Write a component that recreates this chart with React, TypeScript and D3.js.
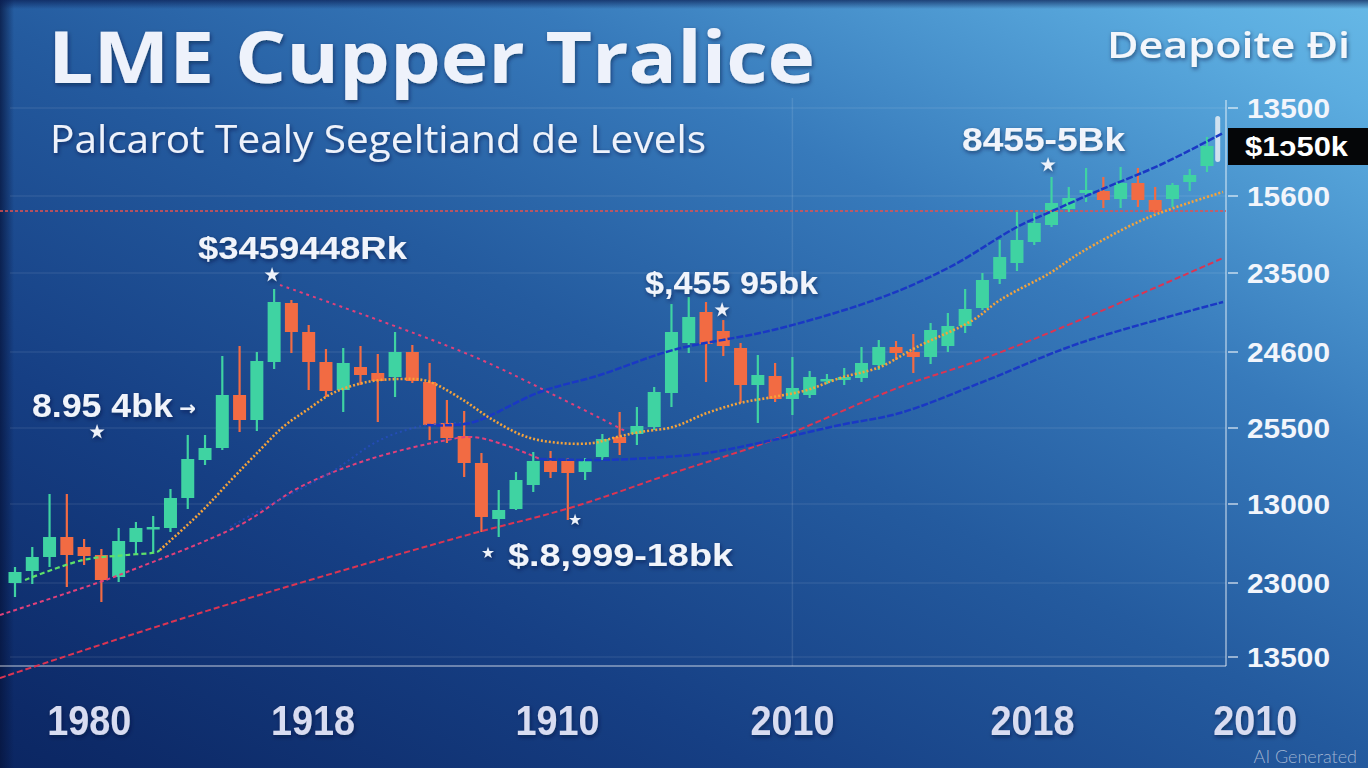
import React from "react";
import * as d3 from "d3";

const WIDTH = 1368;
const HEIGHT = 768;

// candle values, one per period (price units of the chart)
const candleOpen = [750, 870, 1010, 1210, 1110, 1030, 810, 1160, 1290, 1300, 1600, 1980, 2100, 2630, 2380, 2960, 3550, 3260, 2960, 2680, 2910, 2850, 2810, 3060, 2760, 2350, 2220, 1950, 1390, 1490, 1730, 1970, 1970, 1860, 2010, 2210, 2240, 2310, 2650, 3150, 3460, 3270, 3100, 2730, 2820, 2590, 2630, 2770, 2780, 2800, 2930, 3110, 3060, 3010, 3120, 3320, 3500, 3790, 3950, 4160, 4330, 4490, 4650, 4670, 4590, 4750, 4580, 4590, 4760, 4920];
const candleClose = [860, 1010, 1210, 1030, 1020, 780, 1170, 1300, 1310, 1600, 1990, 2100, 2630, 2380, 2970, 3560, 3260, 2960, 2670, 2950, 2830, 2770, 3060, 2770, 2330, 2200, 1950, 1410, 1480, 1780, 1970, 1860, 1850, 1970, 2190, 2150, 2320, 2660, 3260, 3410, 3140, 3120, 2730, 2830, 2590, 2700, 2810, 2790, 2810, 2950, 3110, 3050, 3010, 3280, 3320, 3490, 3780, 4010, 4180, 4350, 4550, 4600, 4680, 4580, 4750, 4580, 4460, 4730, 4830, 5120];
const candleHigh = [910, 1110, 1640, 1640, 1190, 1090, 1300, 1360, 1420, 1690, 2230, 2230, 3020, 3120, 3060, 3690, 3580, 3330, 3090, 3100, 3120, 3040, 3260, 3130, 2950, 2580, 2470, 2050, 1680, 1860, 2060, 2070, 2000, 2000, 2240, 2460, 2510, 2710, 3540, 3610, 3560, 3380, 3150, 3030, 2950, 3010, 2870, 2840, 2900, 3110, 3180, 3170, 3240, 3350, 3450, 3690, 3850, 4180, 4480, 4450, 4810, 4710, 4900, 4810, 4910, 4900, 4710, 4750, 4890, 5210];
const candleLow = [610, 740, 910, 710, 930, 560, 760, 1040, 1060, 1260, 1490, 1930, 2080, 2260, 2270, 2890, 3050, 2680, 2610, 2460, 2730, 2360, 2610, 2750, 2180, 2150, 1810, 1260, 1210, 1480, 1660, 1800, 1380, 1780, 1980, 2030, 2130, 2280, 2510, 3050, 2760, 3020, 2550, 2350, 2560, 2430, 2600, 2740, 2730, 2760, 2880, 2980, 2850, 2940, 3060, 3250, 3480, 3740, 3870, 4130, 4310, 4460, 4560, 4500, 4500, 4510, 4450, 4510, 4670, 4860];

const yTickValues = [5500, 4620, 3850, 3060, 2300, 1540, 750, 10];
const yTickLabels = ["13500", "15600", "23500", "24600", "25500", "13000", "23000", "13500"];
const xTickPos = [4.3, 17.25, 31.4, 45, 58.9, 71.8];
const xTickLabels = ["1980", "1918", "1910", "2010", "2018", "2010"];

type Pt = [number, number];
// [period index, value]
const greenMA: Pt[] = [[0.58, 780], [3.94, 980], [6.48, 1030], [8.22, 1060], [8.39, 1080]];
const orangeMA: Pt[] = [[8.39, 1080], [10.71, 1450], [12.62, 1800], [14.18, 2080], [15.51, 2310], [16.9, 2480], [18.41, 2650], [20.38, 2760], [22.29, 2790], [23.85, 2770], [25.76, 2600], [27.67, 2380], [29.64, 2210], [31.55, 2150], [33.46, 2150], [34.85, 2210], [36.18, 2260], [38.09, 2310], [40.06, 2450], [41.97, 2550], [43.88, 2610], [45.85, 2680], [47.76, 2800], [50.07, 2910], [52.21, 3110], [55.46, 3380], [57.02, 3580], [59.91, 3850], [61.65, 4050], [65.53, 4400], [69.93, 4660]];
const pinkLine: Pt[] = [[-0.87, 430], [4.92, 760], [6.48, 860], [13.02, 1330], [16.5, 1710], [20.38, 1980], [25.01, 2180], [26.51, 2210], [28.36, 2130], [30.39, 1990]];
const blueLower: Pt[] = [[30.39, 1990], [33.46, 1980], [36.76, 2000], [40.06, 2050], [43.88, 2180], [47.76, 2330], [51.23, 2450], [55.86, 2750], [61.65, 3150], [69.93, 3560]];
const blueUpperFaint: Pt[] = [[12.45, 1310], [14.18, 1480], [18.23, 1850], [21.13, 2180], [23.85, 2330], [26.34, 2350]];
const blueUpper: Pt[] = [[23.85, 2330], [26.34, 2350], [30.39, 2660], [33.86, 2830], [38.09, 3080], [43.88, 3280], [50.07, 3600], [54.12, 3910], [58.0, 4310], [59.91, 4460], [62.81, 4680], [66.28, 4930], [69.93, 5250]];
const redTrend: Pt[] = [[-0.87, -200], [10.71, 450], [25.76, 1210], [32.3, 1510], [38.09, 1850], [43.88, 2180], [51.23, 2710], [55.86, 2980], [61.65, 3380], [69.93, 4000]];
const redDown: Pt[] = [[15.34, 3730], [26.34, 3030], [31.55, 2600], [35.43, 2260]];
const resistanceLevel = 4470;
const lastPrice = 5120;
const lastTick: Pt = [69.62, 5420];

const calloutTexts = ["$3459448Rk", "8.95 4bk", "$,455 95bk", "$.8,999-18bk", "8455-5Bk"];
const calloutAt: Pt[] = [[10.59, 3990], [0.98, 2410], [36.47, 3640], [28.54, 920], [54.82, 5070]];
const markerAt: Pt[] = [[14.88, 3830], [4.75, 2260], [40.93, 3480], [59.8, 4930], [27.38, 1050], [32.42, 1380]];

const GREEN = "#3fd3a2";
const RED = "#f26b43";

export default function App() {
  const x = d3.scaleLinear().domain([0, 69]).range([15, 1207]);
  const y = d3.scaleLinear().domain([-200, 5600]).range([678, 98]);
  const axisX = 1226;
  const bottomY = y(-80);
  const line = d3
    .line<Pt>()
    .x((d) => x(d[0]))
    .y((d) => y(d[1]))
    .curve(d3.curveCatmullRom.alpha(0.5));
  const star = d3.symbol().type(d3.symbolStar);
  const calloutLens = [209, 141, 173, 225, 163];
  const calloutSizes = [32, 34, 32, 32, 34];

  return (
    <svg
      width={WIDTH}
      height={HEIGHT}
      style={{ position: "absolute", left: 0, top: 0, display: "block" }}
    >
      <defs>
        <linearGradient id="bg" gradientUnits="userSpaceOnUse" x1={1368} y1={0} x2={751} y2={1166}>
          <stop offset="0" stopColor="#66b8e6" />
          <stop offset="0.07" stopColor="#5cade0" />
          <stop offset="0.3" stopColor="#377abb" />
          <stop offset="0.5" stopColor="#245b9f" />
          <stop offset="0.73" stopColor="#163f84" />
          <stop offset="0.95" stopColor="#0d2a68" />
          <stop offset="1" stopColor="#0b2662" />
        </linearGradient>
        <linearGradient id="leftEdge" x1="0" y1="0" x2="1" y2="0">
          <stop offset="0" stopColor="#06143c" stopOpacity="0.75" />
          <stop offset="1" stopColor="#06143c" stopOpacity="0" />
        </linearGradient>
        <linearGradient id="topEdge" x1="0" y1="0" x2="0" y2="1">
          <stop offset="0" stopColor="#0a1d52" stopOpacity="0.7" />
          <stop offset="1" stopColor="#0a1d52" stopOpacity="0" />
        </linearGradient>
        <filter id="shadow" x="-10%" y="-30%" width="120%" height="160%">
          <feDropShadow dx="1" dy="2" stdDeviation="2" floodColor="#061536" floodOpacity="0.55" />
        </filter>
      </defs>

      <rect width={WIDTH} height={HEIGHT} fill="url(#bg)" />
      <rect width={14} height={HEIGHT} fill="url(#leftEdge)" />
      <rect width={WIDTH} height={9} fill="url(#topEdge)" />

      {/* grid */}
      {yTickValues.map((v, i) => (
        <line key={"g" + i} x1={10} x2={axisX} y1={y(v)} y2={y(v)} stroke="#ffffff" strokeOpacity={0.12} strokeWidth={1.2} />
      ))}
      <line x1={x(xTickPos[3])} x2={x(xTickPos[3])} y1={y(5600)} y2={bottomY} stroke="#ffffff" strokeOpacity={0.1} strokeWidth={1.5} />

      {/* axis frame */}
      <line x1={axisX} x2={axisX} y1={y(5580)} y2={bottomY} stroke="#ffffff" strokeOpacity={0.55} strokeWidth={1.5} />
      <line x1={0} x2={axisX} y1={bottomY} y2={bottomY} stroke="#ffffff" strokeOpacity={0.5} strokeWidth={1.5} />
      {yTickValues.map((v, i) => (
        <g key={"t" + i}>
          <line x1={axisX + 2} x2={axisX + 12} y1={y(v)} y2={y(v)} stroke="#ffffff" strokeOpacity={0.7} strokeWidth={1.5} />
          <text
            x={1247}
            y={y(v)}
            dy="0.36em"
            fill="#f2f5fb"
            fontFamily="'Liberation Sans', Arial, sans-serif"
            fontWeight={700}
            fontSize={28}
            textLength={83}
            lengthAdjust="spacingAndGlyphs"
          >
            {yTickLabels[i]}
          </text>
        </g>
      ))}

      {/* candles */}
      {candleOpen.map((o, i) => {
        const c = candleClose[i];
        const col = c >= o ? GREEN : RED;
        const top = y(Math.max(o, c));
        const h = Math.max(2.5, y(Math.min(o, c)) - top);
        return (
          <g key={"c" + i}>
            <line x1={x(i)} x2={x(i)} y1={y(candleHigh[i])} y2={y(candleLow[i])} stroke={col} strokeWidth={2.2} />
            <rect x={x(i) - 6.5} y={top} width={13} height={h} fill={col} />
          </g>
        );
      })}
      <rect
        x={x(lastTick[0]) - 2.5}
        y={y(lastTick[1])}
        width={5}
        height={y(lastPrice - 160) - y(lastTick[1])}
        rx={2.5}
        fill="#e6edf5"
        opacity={0.85}
      />

      {/* indicator lines */}
      <line x1={0} x2={axisX} y1={y(resistanceLevel)} y2={y(resistanceLevel)} stroke="#e5524f" strokeWidth={1.6} strokeDasharray="3 2" />
      <path d={line(redTrend) || ""} fill="none" stroke="#dc3452" strokeWidth={2} strokeDasharray="6 3" />
      <path d={line(pinkLine) || ""} fill="none" stroke="#e2407a" strokeWidth={2} strokeDasharray="4 3" />
      <path d={line(blueLower) || ""} fill="none" stroke="#1a38c4" strokeWidth={2.5} strokeDasharray="7 2" />
      <path d={line(blueUpperFaint) || ""} fill="none" stroke="#2a4fd0" strokeOpacity={0.6} strokeWidth={2} strokeDasharray="2 3" />
      <path d={line(blueUpper) || ""} fill="none" stroke="#1a38c4" strokeWidth={2.5} strokeDasharray="7 2" />
      <path d={line(redDown) || ""} fill="none" stroke="#e2407a" strokeWidth={2} strokeDasharray="3 4" />
      <path d={line(greenMA) || ""} fill="none" stroke="#5ee06a" strokeWidth={2.2} strokeDasharray="5 3" />
      <path d={line(orangeMA) || ""} fill="none" stroke="#f5a33a" strokeWidth={2.6} strokeDasharray="2 2" />

      {/* last price box */}
      <rect x={1228} y={y(lastPrice) - 18} width={WIDTH - 1228} height={37} fill="#050608" />
      <text
        x={1245}
        y={y(lastPrice)}
        dy="0.36em"
        fill="#ffffff"
        fontFamily="'Liberation Sans', Arial, sans-serif"
        fontWeight={700}
        fontSize={28}
        textLength={103}
        lengthAdjust="spacingAndGlyphs"
      >
        $1ɔ50k
      </text>

      {/* markers and callouts */}
      {markerAt.map((m, i) => (
        <path
          key={"m" + i}
          transform={`translate(${x(m[0])},${y(m[1])})`}
          d={star.size(i === 4 || i === 5 ? 45 : 70)() || ""}
          fill="#eef2fa"
          filter="url(#shadow)"
        />
      ))}
      <text
        x={x(10.0)}
        y={y(2410)}
        dy="-0.1em"
        fill="#eef2fa"
        fontFamily="'DejaVu Sans', sans-serif"
        fontWeight={700}
        fontSize={20}
        textAnchor="middle"
        filter="url(#shadow)"
      >
        →
      </text>
      {calloutTexts.map((t, i) => (
        <text
          key={"a" + i}
          x={x(calloutAt[i][0])}
          y={y(calloutAt[i][1])}
          fill="#f1f4fb"
          fontFamily="'Liberation Sans', Arial, sans-serif"
          fontWeight={700}
          fontSize={calloutSizes[i]}
          textLength={calloutLens[i]}
          lengthAdjust="spacingAndGlyphs"
          filter="url(#shadow)"
        >
          {t}
        </text>
      ))}

      {/* x labels */}
      {xTickLabels.map((t, i) => (
        <text
          key={"x" + i}
          x={x(xTickPos[i])}
          y={735}
          fill="#d8dcf1"
          fontFamily="'Liberation Sans', Arial, sans-serif"
          fontWeight={700}
          fontSize={43}
          textAnchor="middle"
          textLength={84}
          lengthAdjust="spacingAndGlyphs"
          filter="url(#shadow)"
        >
          {t}
        </text>
      ))}

      {/* titles */}
      <text
        x={48}
        y={83}
        fill="#eef2fb"
        fontFamily="'Open Sans', 'Noto Sans', sans-serif"
        fontWeight={700}
        fontSize={71}
        textLength={767}
        lengthAdjust="spacingAndGlyphs"
        filter="url(#shadow)"
      >
        LME Cupper Tralice
      </text>
      <text
        x={50}
        y={153}
        fill="#eef2fb"
        fontFamily="'Open Sans', 'Noto Sans', sans-serif"
        fontWeight={400}
        fontSize={39}
        textLength={656}
        lengthAdjust="spacingAndGlyphs"
        filter="url(#shadow)"
      >
        Palcarot Tealy Segeltiand de Levels
      </text>
      <text
        x={1107}
        y={58}
        fill="#f3f6fb"
        fontFamily="'Open Sans', 'Noto Sans', sans-serif"
        fontWeight={600}
        fontSize={36}
        textLength={243}
        lengthAdjust="spacingAndGlyphs"
        filter="url(#shadow)"
      >
        Deapoite Ði
      </text>
      <text
        x={1357}
        y={763}
        textAnchor="end"
        fill="#c9d2e2"
        fillOpacity={0.75}
        fontFamily="Lato, 'Open Sans', sans-serif"
        fontWeight={300}
        fontSize={18}
      >
        AI Generated
      </text>
    </svg>
  );
}
